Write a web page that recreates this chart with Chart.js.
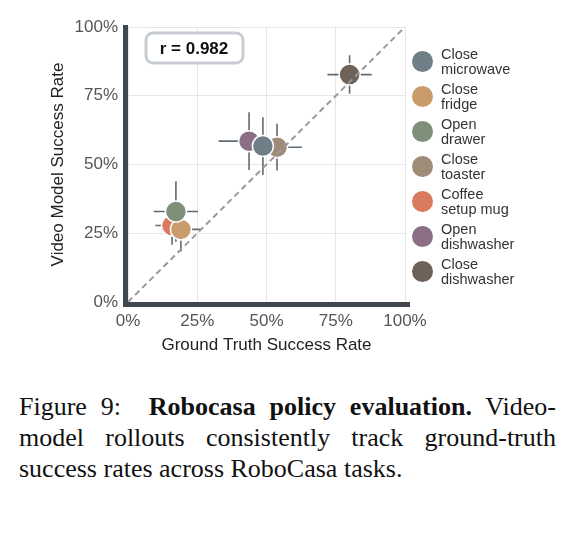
<!DOCTYPE html>
<html><head><meta charset="utf-8">
<script src="https://cdn.jsdelivr.net/npm/chart.js@4"></script>
<style>
body{margin:0;background:#fff;width:572px;height:540px;overflow:hidden;position:relative}
#wrap{position:absolute;left:0;top:0;width:572px;height:360px}
#cap{position:absolute;left:19px;top:391px;width:537px;font-family:"Liberation Serif","DejaVu Serif",serif;font-size:26px;line-height:31px;text-align:justify;color:#111}
#leg{position:absolute;left:412px;top:44px;font-family:"Liberation Sans",Arial,sans-serif;font-size:14.5px;line-height:15px;color:#333}
.it{display:flex;align-items:center;height:35px}
.dot{width:21px;height:21px;border-radius:50%;margin-right:8px;flex:none}
</style></head><body>
<div id="wrap"><canvas id="c" width="572" height="360"></canvas></div>
<div id="leg"></div>
<div id="cap">Figure 9: &nbsp;<b>Robocasa policy evaluation.</b> Video-model rollouts consistently track ground-truth success rates across RoboCasa tasks.</div>
<script>
const tasks=["Close\nmicrowave","Close\nfridge","Open\ndrawer","Close\ntoaster","Coffee\nsetup mug","Open\ndishwasher","Close\ndishwasher"];
const colors=["#6f7f87","#c99d6b","#7f8f78","#9e8b78","#d97a5e","#8c6f87","#6e6157"];
const gtRate=[48.7,19.1,17.3,53.8,15.9,43.7,80.0];
const vmRate=[56.7,26.4,32.9,56.3,27.8,58.5,82.7];
const gtErr=[7,7,8,9,6,11,8];
const vmErr=[10.5,8,11,8.5,7,10.5,7];
const drawSequence=[0,2,1,4,3,5,6];
const ticks=[0,25,50,75,100];
const rText="r = 0.982";

const leg=document.getElementById('leg');
tasks.forEach((t,i)=>{leg.innerHTML+=`<div class="it"><div class="dot" style="background:${colors[i]}"></div><div>${t.replace('\n','<br>')}</div></div>`;});

const errPlugin={id:'err',beforeDatasetsDraw(ch){
  const c=ch.ctx,x=ch.scales.x,y=ch.scales.y;
  c.save();c.strokeStyle='#5f6b74';c.lineWidth=1.6;
  gtRate.forEach((g,i)=>{const px=x.getPixelForValue(g),py=y.getPixelForValue(vmRate[i]);
    c.beginPath();c.moveTo(x.getPixelForValue(g-gtErr[i]),py);c.lineTo(x.getPixelForValue(g+gtErr[i]),py);
    c.moveTo(px,y.getPixelForValue(vmRate[i]-vmErr[i]));c.lineTo(px,y.getPixelForValue(vmRate[i]+vmErr[i]));c.stroke();});
  c.restore();},
 afterDraw(ch){const c=ch.ctx,a=ch.chartArea;c.save();
  c.fillStyle='#41474f';c.fillRect(a.left-5,a.top-2,5,a.bottom-a.top+7);c.fillRect(a.left-5,a.bottom,a.right-a.left+10,5);
  c.strokeStyle='#c8ccd4';c.lineWidth=3;c.fillStyle='#fff';
  c.beginPath();c.roundRect(a.left+18,a.top+6,97,30,7);c.fill();c.stroke();
  c.fillStyle='#111';c.font='bold 17px "Liberation Sans",Arial';c.textAlign='center';c.textBaseline='middle';
  c.fillText(rText,a.left+66,a.top+22);c.restore();}};

const ds=drawSequence.map(i=>({type:'scatter',label:tasks[i],data:[{x:gtRate[i],y:vmRate[i]}],backgroundColor:colors[i],borderColor:'#fff',borderWidth:1.5,pointRadius:10.5,pointHoverRadius:10.5}));
ds.unshift({type:'line',label:'diag',data:[{x:0,y:0},{x:100,y:100}],borderColor:'#9a9a9a',borderDash:[6,4],borderWidth:2,pointRadius:0});
const tickFont={family:'"Liberation Sans",Arial',size:17};
const titleFont={family:'"Liberation Sans",Arial',size:17};
new Chart(document.getElementById('c'),{data:{datasets:ds},plugins:[errPlugin],
 options:{responsive:false,animation:false,layout:{padding:{top:27,right:167,left:44,bottom:0}},
  plugins:{legend:{display:false},tooltip:{enabled:false}},
  scales:{
   x:{type:'linear',min:0,max:100,afterBuildTicks(s){s.ticks=ticks.map(v=>({value:v}));},afterFit(s){s.height=58;},
      grid:{color:'#e6e6e6',borderDash:[4,3],drawTicks:false},border:{display:false},
      ticks:{color:'#555',font:tickFont,padding:9,callback:v=>v+'%'},
      title:{display:true,text:'Ground Truth Success Rate',color:'#222',font:titleFont,padding:{top:0}}},
   y:{type:'linear',min:0,max:100,afterBuildTicks(s){s.ticks=ticks.map(v=>({value:v}));},afterFit(s){s.width=84;},
      grid:{color:'#e6e6e6',borderDash:[4,3],drawTicks:false},border:{display:false},
      ticks:{color:'#555',font:tickFont,padding:10,callback:v=>v+'%'},
      title:{display:true,text:'Video Model Success Rate',color:'#222',font:titleFont,padding:{bottom:0}}}
  }}});
</script></body></html>
